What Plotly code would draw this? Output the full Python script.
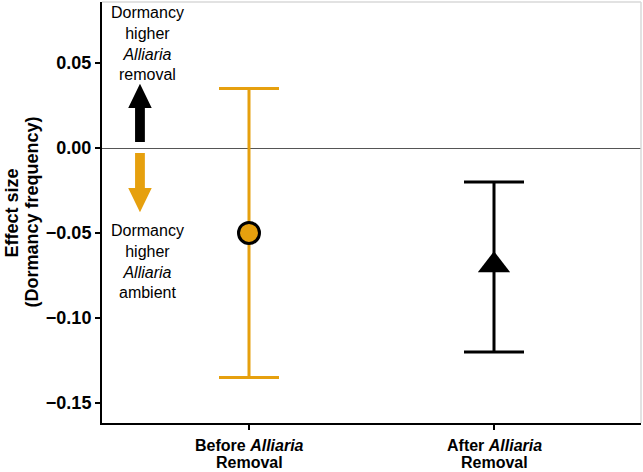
"""
Effect size of Alliaria removal on dormancy frequency, before vs after.
"""

import plotly.graph_objects as go

# data
group_line1 = ["Before <i>Alliaria</i>", "After <i>Alliaria</i>"]
group_line2 = ["Removal", "Removal"]
effect = [-0.050, -0.069]
ci_low = [-0.135, -0.120]
ci_high = [0.035, -0.020]

gold = "#E6A00E"
FONT = "Liberation Sans, Arial, Helvetica, sans-serif"

fig = go.Figure()

# before removal: gold circle
fig.add_trace(go.Scatter(
    x=[0], y=[effect[0]],
    mode="markers",
    marker=dict(symbol="circle", size=21, color=gold, line=dict(color="black", width=3)),
    error_y=dict(type="data", symmetric=False,
                 array=[ci_high[0] - effect[0]], arrayminus=[effect[0] - ci_low[0]],
                 color=gold, thickness=3, width=30),
    showlegend=False,
))

# after removal: black triangle
fig.add_trace(go.Scatter(
    x=[1], y=[effect[1]],
    mode="markers",
    marker=dict(symbol="triangle-up", size=28, color="black", line=dict(width=0)),
    error_y=dict(type="data", symmetric=False,
                 array=[ci_high[1] - effect[1]], arrayminus=[effect[1] - ci_low[1]],
                 color="black", thickness=3, width=30),
    showlegend=False,
))

# direction arrows drawn as polygons (data units)
ax = -0.445
sw = 0.02   # shaft half width
hw = 0.048  # head half width
up_path = (f"M{ax-sw},0.0035 L{ax-sw},0.0235 L{ax-hw},0.0235 L{ax},0.0378 "
           f"L{ax+hw},0.0235 L{ax+sw},0.0235 L{ax+sw},0.0035 Z")
down_path = (f"M{ax-sw},-0.003 L{ax-sw},-0.0235 L{ax-hw},-0.0235 L{ax},-0.0378 "
             f"L{ax+hw},-0.0235 L{ax+sw},-0.0235 L{ax+sw},-0.003 Z")
fig.add_shape(type="path", path=up_path, xref="x", yref="y",
              fillcolor="black", line=dict(width=0))
fig.add_shape(type="path", path=down_path, xref="x", yref="y",
              fillcolor=gold, line=dict(width=0))

# light frame on top/right
fig.add_shape(type="line", xref="paper", yref="paper", x0=0, x1=1, y0=1, y1=1,
              line=dict(color="#d8d8d8", width=1.5))
fig.add_shape(type="line", xref="paper", yref="paper", x0=1, x1=1, y0=0, y1=1,
              line=dict(color="#d8d8d8", width=1.5))

fig.add_annotation(x=-0.416, y=1.0, xref="x", yref="paper",
                   text="Dormancy<br>higher<br><i>Alliaria</i><br>removal",
                   showarrow=False, yanchor="top", xanchor="center", align="center",
                   font=dict(family=FONT, size=16, color="black"))
fig.add_annotation(x=-0.416, y=-0.0425, xref="x", yref="y",
                   text="Dormancy<br>higher<br><i>Alliaria</i><br>ambient",
                   showarrow=False, yanchor="top", xanchor="center", align="center",
                   font=dict(family=FONT, size=16, color="black"))

# y axis title, one annotation per line for tighter spacing
fig.add_annotation(x=-0.167, y=0.5, xref="paper", yref="paper",
                   text="<b>Effect size</b>", textangle=-90, showarrow=False,
                   xanchor="center", yanchor="middle",
                   font=dict(family=FONT, size=18, color="black"))
fig.add_annotation(x=-0.1317, y=0.5, xref="paper", yref="paper",
                   text="<b>(Dormancy frequency)</b>", textangle=-90, showarrow=False,
                   xanchor="center", yanchor="middle",
                   font=dict(family=FONT, size=18, color="black"))

# x category labels (two lines each)
for i, (l1, l2) in enumerate(zip(group_line1, group_line2)):
    fig.add_annotation(x=i, y=-0.0523, xref="x", yref="paper", text=f"<b>{l1}</b>",
                       showarrow=False, xanchor="center", yanchor="middle",
                       font=dict(family=FONT, size=16, color="black"))
    fig.add_annotation(x=i, y=-0.095, xref="x", yref="paper", text=f"<b>{l2}</b>",
                       showarrow=False, xanchor="center", yanchor="middle",
                       font=dict(family=FONT, size=16, color="black"))

fig.update_xaxes(
    range=[-0.6, 1.6], tickvals=[0, 1], showticklabels=False,
    showline=True, linecolor="black", linewidth=2,
    ticks="outside", ticklen=5, tickwidth=2, tickcolor="black",
    showgrid=False, zeroline=False, automargin=False,
)
fig.update_yaxes(
    range=[-0.1618, 0.0859], tickvals=[-0.15, -0.10, -0.05, 0.0, 0.05],
    ticktext=["<b>\u22120.15</b>", "<b>\u22120.10</b>", "<b>\u22120.05</b>", "<b>0.00</b>", "<b>0.05</b>"],
    showline=True, linecolor="black", linewidth=2,
    ticks="outside", ticklen=5, tickwidth=2, tickcolor="black",
    showgrid=False, zeroline=True, zerolinecolor="#555555", zerolinewidth=1,
    automargin=False,
    tickfont=dict(family=FONT, size=18, color="black"),
)

fig.update_layout(
    width=643, height=472,
    margin=dict(l=102, r=2, t=2, b=49),
    plot_bgcolor="white", paper_bgcolor="white",
    font=dict(family=FONT),
)

# drop the page's default body margin so the figure sits at the window's corner
fig.write_html("out.html", config={"displayModeBar": False},
               post_script="document.body.style.margin='0';")
